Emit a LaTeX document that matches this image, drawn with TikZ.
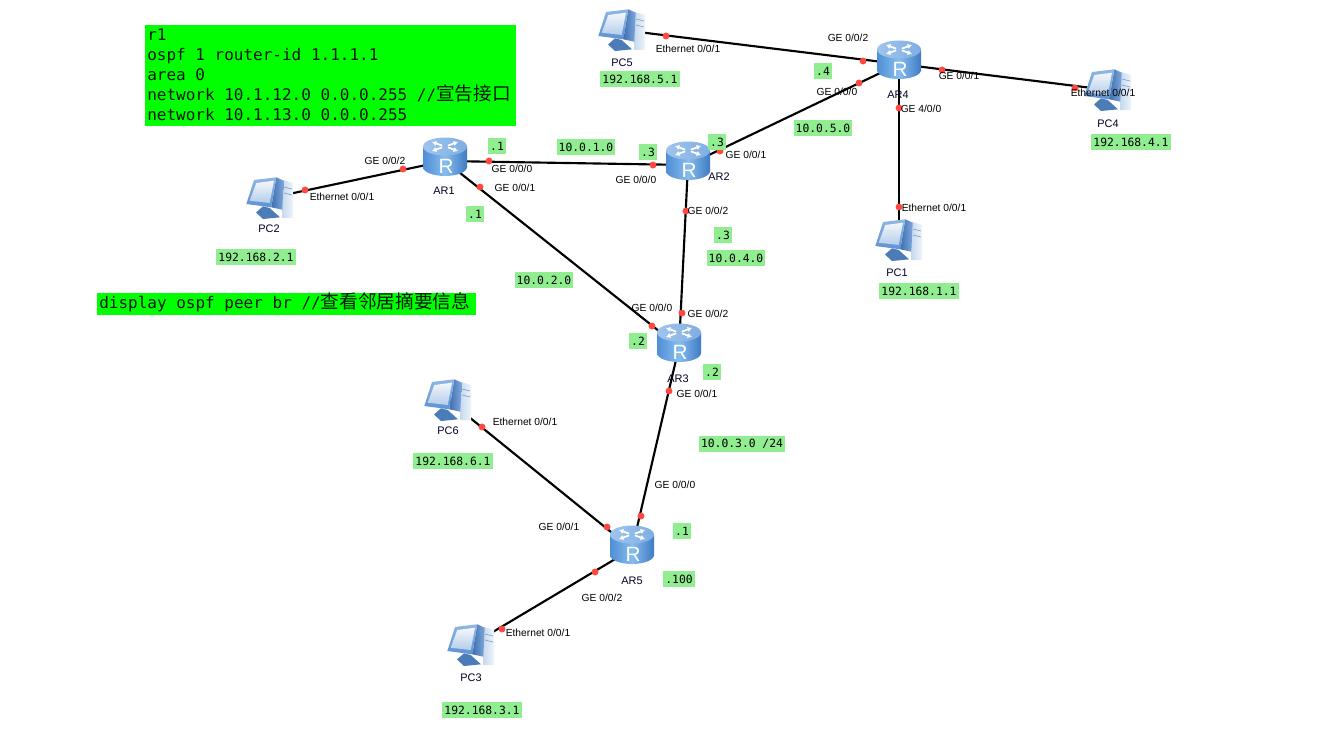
\documentclass[tikz,border=0pt]{standalone}
\usepackage{fontspec}
\usetikzlibrary{arrows.meta}
\setmainfont{Liberation Sans}
\newfontfamily\codefont{DejaVu Sans Mono}
\newfontfamily\cjk{Noto Sans CJK SC}
\definecolor{tagfill}{HTML}{90EE90}
\definecolor{notefill}{HTML}{00FF00}
\definecolor{portred}{HTML}{FF4840}
\definecolor{bodyedge}{HTML}{4F8FD6}
\definecolor{bodyedgeb}{HTML}{3F7BC4}
\definecolor{bodymid}{HTML}{86BCEE}
\definecolor{lidl}{HTML}{9FC4EE}
\definecolor{lidr}{HTML}{7FAEE2}
\definecolor{towerl}{HTML}{C6D9EF}
\definecolor{towerr}{HTML}{EEF4FB}
\definecolor{towerline}{HTML}{7F9FC8}
\definecolor{standc}{HTML}{4C7CB8}
\definecolor{reara}{HTML}{3F6FB0}
\definecolor{rearb}{HTML}{7FA8DA}
\definecolor{bezela}{HTML}{8FB6E6}
\definecolor{bezelb}{HTML}{5F92D2}
\definecolor{screena}{HTML}{F4F7FB}
\definecolor{screenb}{HTML}{B4CDEB}
\tikzset{
  anchorpt/.style={inner sep=0pt,minimum size=0pt},
  link/.style={line width=1.6pt,black},
  portdot/.style={circle,fill=portred,inner sep=0pt,minimum size=5.2pt},
  portlabel/.style={font=\fontsize{7.7}{9}\selectfont,inner sep=0pt},
  devlabel/.style={font=\fontsize{8.2}{10}\selectfont,inner sep=0pt,text=black!85!blue},
  tag/.style={fill=tagfill,font=\codefont\fontsize{8.5}{10}\selectfont,inner sep=0pt,minimum height=12pt},
  notebox/.style={anchor=north west,align=left,inner sep=1.5pt,
    font=\codefont\fontsize{12}{15}\selectfont,text=black!90!green},
  routericon/.pic={
    % cylinder body, then the lighter lid with its four arrows
    \path[left color=bodyedge,right color=bodyedgeb,middle color=bodymid]
      (-22,-14.5) -- (-22,6) arc[start angle=180,end angle=0,x radius=22,y radius=9] -- (22,-14.5) -- cycle;
    \path[left color=lidl,right color=lidr]
      (0,-14.5) ellipse[x radius=22,y radius=9];
    \foreach \a in {35,145,215,325}{
      \draw[white,line width=1.3pt,-{Latex[length=3.4pt,width=4pt]}]
        ({cos(\a)*3.5},{-14.5+sin(\a)*1.5}) -- ({cos(\a)*16},{-14.5+sin(\a)*8});
    }
    \node[text=white,inner sep=0pt,font=\fontsize{15.5}{15.5}\selectfont] at (1,5.5) {R};
  },
  pcicon/.pic={
    % tower, screen housing, stand and display
    \path[left color=towerl,right color=towerr]
      (12.3,-18.3) -- (23,-15) -- (23,20) -- (12,20) -- cycle;
    \draw[towerline,line width=.5pt] (14,-11) -- (22,-9) (14,-5) -- (22,-3);
    \path[fill=standc] (-14,14.5) -- (-7,8.3) -- (-.3,10) -- (10,19.3) -- (-7,21) -- cycle;
    \path[left color=reara,right color=rearb]
      (6.3,-20.7) -- (13.7,-17.3) -- (12.3,11.7) -- (1.3,9.3) -- cycle;
    \path[top color=bezela,bottom color=bezelb]
      (-16,-18) -- (6.3,-20.7) -- (1.3,9.3) -- (-23.7,6) -- cycle;
    \path[top color=screena,bottom color=screenb]
      (-13.7,-15) -- (4,-17.3) -- (-.3,5) -- (-20.3,2.7) -- cycle;
  },
}
\begin{document}
\begin{tikzpicture}[x=.75pt,y=-.75pt]
\useasboundingbox (0,0) rectangle (1335,735);
\fill[white] (0,0) rectangle (1335,735);

% device positions
\node[anchorpt] (ar1) at (445,161) {};
\node[anchorpt] (ar2) at (688,165) {};
\node[anchorpt] (ar3) at (679,347) {};
\node[anchorpt] (ar4) at (899,64) {};
\node[anchorpt] (ar5) at (632,549) {};
\node[anchorpt] (pc1) at (899,240) {};
\node[anchorpt] (pc2) at (270,198) {};
\node[anchorpt] (pc3) at (471,645) {};
\node[anchorpt] (pc4) at (1108,90) {};
\node[anchorpt] (pc5) at (622,30) {};
\node[anchorpt] (pc6) at (448,400) {};

% links
\draw[link] (ar1) -- (ar2);
\draw[link] (ar1) -- (ar3);
\draw[link] (ar1) -- (pc2);
\draw[link] (ar2) -- (ar3);
\draw[link] (ar2) -- (ar4);
\draw[link] (ar3) -- (ar5);
\draw[link] (ar4) -- (pc5);
\draw[link] (ar4) -- (pc4);
\draw[link] (ar4) -- (pc1);
\draw[link] (ar5) -- (pc6);
\draw[link] (ar5) -- (pc3);

% device icons
\foreach \r in {ar1,ar2,ar3,ar4,ar5} \pic at (\r) {routericon};
\foreach \p in {pc1,pc2,pc3,pc4,pc5,pc6} \pic at (\p) {pcicon};

% interface markers
\foreach \i/\x/\y in {a/403/169,b/305/190,c/489/161,d/653/165,e/480/187,f/652/326,
  g/686/211,h/682/313,i/720/151,j/859/83,k/863/61,l/666/36,m/942/70,n/1075/88,
  o/899/108,p/899/207,q/669/391,r/641/516,s/482/427,t/607/527,u/595/572,v/502/629}
  \node[portdot] (dot\i) at (\x,\y) {};

% interface names
\foreach \n/\x/\y/\t in {
  l1/385/161/GE 0{/}0{/}2, l2/342/197/Ethernet 0{/}0{/}1, l3/512/169/GE 0{/}0{/}0,
  l4/515/188/GE 0{/}0{/}1, l5/636/180/GE 0{/}0{/}0, l6/708/211/GE 0{/}0{/}2,
  l7/746/155/GE 0{/}0{/}1, l8/688/49/Ethernet 0{/}0{/}1, l9/848/38/GE 0{/}0{/}2,
  l10/837/92/GE 0{/}0{/}0, l11/959/76/GE 0{/}0{/}1, l12/921/109/GE 4{/}0{/}0,
  l13/1103/93/Ethernet 0{/}0{/}1, l14/934/208/Ethernet 0{/}0{/}1, l15/652/308/GE 0{/}0{/}0,
  l16/708/314/GE 0{/}0{/}2, l17/697/394/GE 0{/}0{/}1, l18/525/422/Ethernet 0{/}0{/}1,
  l19/675/485/GE 0{/}0{/}0, l20/559/527/GE 0{/}0{/}1, l21/602/598/GE 0{/}0{/}2,
  l22/538/633/Ethernet 0{/}0{/}1}
  \node[portlabel] (\n) at (\x,\y) {\t};

% device names
\foreach \n/\x/\y/\t in {
  n1/444/191/AR1, n2/719/177/AR2, n3/678/379/AR3, n4/898/95/AR4, n5/632/581/AR5,
  n6/897/273/PC1, n7/269/229/PC2, n8/471/678/PC3, n9/1108/124/PC4, n10/622/63/PC5, n11/448/431/PC6}
  \node[devlabel] (\n) at (\x,\y) {\t};

% address tags
\foreach \n/\x/\y/\t in {
  t1/640/79/192.168.5.1, t2/256/257/192.168.2.1, t3/1131/142/192.168.4.1,
  t4/919/291/192.168.1.1, t5/453/461/192.168.6.1, t6/482/710/192.168.3.1,
  t7/586/147/10.0.1.0, t8/823/128/10.0.5.0, t9/736/258/10.0.4.0, t10/544/280/10.0.2.0,
  t11/742/444/10.0.3.0 {/}24, t12/823/71/.4, t13/497/146/.1, t14/648/152/.3, t15/717/142/.3,
  t16/475/214/.1, t17/723/235/.3, t18/638/341/.2, t19/712/372/.2, t20/682/531/.1, t21/679/579/.100}
  \node[tag,inner xsep=1.5pt] (\n) at (\x,\y) {\t};

% configuration notes
\fill[notefill] (145,25) rectangle (516,126);
\fill[notefill] (97,293) rectangle (476,315);
\node[notebox,text width=275pt] (note1) at (145,26.5)
  {\spaceskip=0pt\relax r1\\ospf 1 router-id 1.1.1.1\\area 0\\network 10.1.12.0 0.0.0.255 //{\cjk\fontsize{14}{15}\selectfont 宣告接口}\\network 10.1.13.0 0.0.0.255};
\node[notebox,text width=281pt] (note2) at (97,290)
  {\spaceskip=0pt\relax display ospf peer br //{\cjk\fontsize{14}{15}\selectfont 查看邻居摘要信息}};
\end{tikzpicture}
\end{document}
